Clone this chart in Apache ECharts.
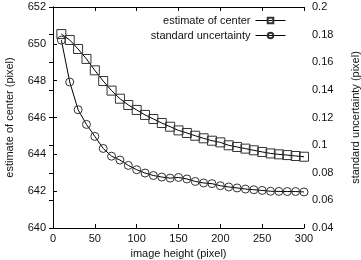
<!DOCTYPE html>
<html>
<head>
<meta charset="utf-8">
<script src="https://cdn.jsdelivr.net/npm/echarts@6/dist/echarts.min.js"></script>
<style>
  html, body { margin: 0; padding: 0; background: #fff; }
  #chart { width: 361px; height: 260px; }
</style>
</head>
<body>
<div id="chart"></div>
<script>
// image height (pixel)
var heights = [10, 20, 30, 40, 50, 60, 70, 80, 90, 100,
               110, 120, 130, 140, 150, 160, 170, 180, 190, 200,
               210, 220, 230, 240, 250, 260, 270, 280, 290, 300];

// estimate of center (pixel), left axis
var centerEst = [650.53, 650.21, 649.72, 649.18, 648.56, 647.98, 647.46, 647.02, 646.68, 646.41,
                 646.14, 645.92, 645.70, 645.50, 645.30, 645.16, 645.01, 644.87, 644.74, 644.65,
                 644.49, 644.40, 644.31, 644.22, 644.13, 644.05, 644.00, 643.96, 643.91, 643.87];

// standard uncertainty (pixel), right axis
var stdUnc = [0.176, 0.1457, 0.1256, 0.115, 0.1063, 0.0976, 0.092, 0.0892, 0.0853, 0.0822,
              0.0798, 0.078, 0.0769, 0.0761, 0.0766, 0.0755, 0.0737, 0.0726, 0.0721, 0.0706,
              0.0697, 0.069, 0.0682, 0.0677, 0.0672, 0.0666, 0.0665, 0.0664, 0.0664, 0.0661];

var font = 'Liberation Sans';
var txt = '#111';

var chart = echarts.init(document.getElementById('chart'));

function pairs(xs, ys) {
    return xs.map(function (x, i) { return [x, ys[i]]; });
}

var axisLineStyle = { show: true, lineStyle: { color: '#000', width: 1 } };
var tickStyle = { show: true, inside: true, length: 4, lineStyle: { color: '#000' } };

var option = {
    animation: false,
    backgroundColor: '#fff',
    textStyle: { fontFamily: font, color: txt },
    grid: { left: 53, right: 57, top: 7, bottom: 32, outerBoundsMode: 'none', containLabel: false },
    legend: {
        right: 70,
        top: 10,
        orient: 'vertical',
        align: 'right',
        itemWidth: 30,
        itemHeight: 7,
        itemGap: 4,
        lineStyle: { width: 1 },
        textStyle: { fontFamily: font, fontSize: 11, color: txt },
        data: ['estimate of center', 'standard uncertainty']
    },
    xAxis: [
        {
            type: 'value',
            position: 'bottom',
            min: 0, max: 300, interval: 50,
            name: 'image height (pixel)',
            nameLocation: 'middle',
            nameGap: 20,
            nameTextStyle: { fontFamily: font, fontSize: 11, color: txt },
            axisLine: axisLineStyle,
            axisTick: tickStyle,
            axisLabel: { fontFamily: font, fontSize: 11, color: txt, margin: 5 },
            splitLine: { show: false }
        },
        {
            type: 'value',
            position: 'top',
            min: 0, max: 300, interval: 50,
            axisLine: axisLineStyle,
            axisTick: tickStyle,
            axisLabel: { show: false },
            splitLine: { show: false }
        }
    ],
    yAxis: [
        {
            type: 'value',
            position: 'left',
            min: 640, max: 652, interval: 2,
            name: 'estimate of center (pixel)',
            nameLocation: 'middle',
            nameRotate: 90,
            nameGap: 38,
            nameTextStyle: { fontFamily: font, fontSize: 11, color: txt },
            axisLine: axisLineStyle,
            axisTick: tickStyle,
            axisLabel: { fontFamily: font, fontSize: 11, color: txt, margin: 7 },
            splitLine: { show: false }
        },
        {
            type: 'value',
            position: 'right',
            min: 0.04, max: 0.2, interval: 0.02,
            name: 'standard uncertainty (pixel)',
            nameLocation: 'middle',
            nameRotate: 90,
            nameGap: 46,
            nameTextStyle: { fontFamily: font, fontSize: 11, color: txt },
            axisLine: axisLineStyle,
            axisTick: tickStyle,
            axisLabel: { fontFamily: font, fontSize: 11, color: txt, margin: 8 },
            splitLine: { show: false }
        }
    ],
    series: [
        {
            name: 'estimate of center',
            type: 'line',
            xAxisIndex: 0,
            yAxisIndex: 0,
            symbol: 'rect',
            symbolSize: 9,
            showAllSymbol: true,
            lineStyle: { color: '#000', width: 1 },
            itemStyle: { color: 'rgba(0,0,0,0)', borderColor: '#333', borderWidth: 1 },
            data: pairs(heights, centerEst)
        },
        {
            name: 'standard uncertainty',
            type: 'line',
            xAxisIndex: 0,
            yAxisIndex: 1,
            symbol: 'circle',
            symbolSize: 8,
            showAllSymbol: true,
            lineStyle: { color: '#000', width: 1 },
            itemStyle: { color: 'rgba(0,0,0,0)', borderColor: '#333', borderWidth: 1 },
            data: pairs(heights, stdUnc)
        }
    ]
};

chart.setOption(option);
</script>
</body>
</html>
